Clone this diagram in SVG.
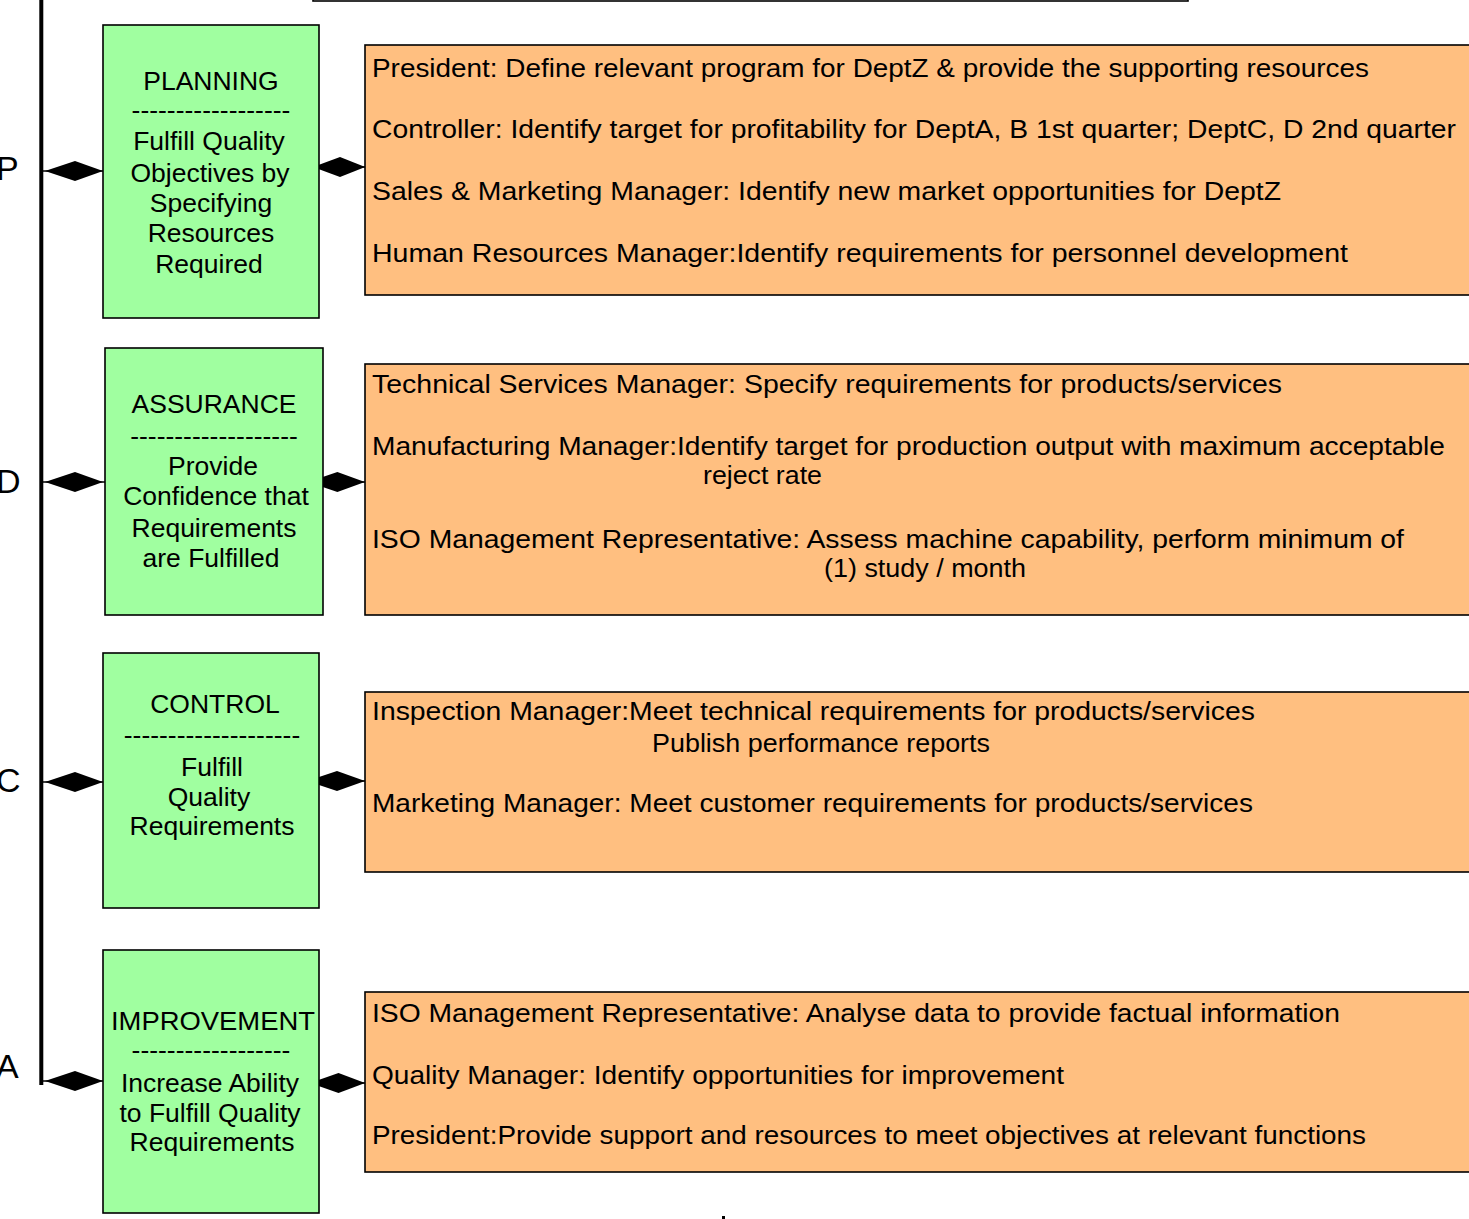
<svg xmlns="http://www.w3.org/2000/svg" xmlns:xlink="http://www.w3.org/1999/xlink" width="1469" height="1219" viewBox="0 0 1469 1219">
<style>
  .green { fill: #A0FFA0; stroke: #000; stroke-width: 1.6; }
  .orange { fill: #FFBF80; stroke: #000; stroke-width: 1.6; }
  .gt { font-family: "Liberation Sans", Arial, sans-serif; font-size: 26.5px; fill: #000; text-anchor: middle; }
  .ot { font-family: "Liberation Sans", Arial, sans-serif; font-size: 25px; fill: #000; }
  .letter { font-family: "Liberation Sans", Arial, sans-serif; font-size: 34px; fill: #000; }
  .conn { stroke: #000; stroke-width: 1.5; fill: none; }
  .dia { fill: #000; stroke: none; }
</style>
<defs>
  <path id="diamond" d="M0,0 L30,-10 L58,0 L30,10 Z"/>
</defs>
<rect width="1469" height="1219" fill="#fff"/>

<g id="top-box">
  <rect x="313" y="-60" width="875" height="61" fill="#fff" stroke="#000" stroke-width="1.6"/>
</g>

<g id="axis">
  <line x1="41.3" y1="0" x2="41.3" y2="1085" stroke="#000" stroke-width="4"/>
  <text class="letter" x="-4" y="180">P</text>
  <text class="letter" x="-4" y="493">D</text>
  <text class="letter" x="-4" y="792">C</text>
  <text class="letter" x="-4" y="1078">A</text>
</g>

<g id="connectors">
  <line class="conn" x1="43" y1="171" x2="103" y2="171"/>
  <use xlink:href="#diamond" class="dia" transform="translate(45,171)"/>
  <line class="conn" x1="313" y1="167" x2="365" y2="167"/>
  <use xlink:href="#diamond" class="dia" transform="translate(313,167) scale(0.9,1)"/>

  <line class="conn" x1="43" y1="482" x2="105" y2="482"/>
  <use xlink:href="#diamond" class="dia" transform="translate(45,482)"/>
  <line class="conn" x1="308" y1="482" x2="365" y2="482"/>
  <use xlink:href="#diamond" class="dia" transform="translate(308,482) scale(0.98,1)"/>

  <line class="conn" x1="43" y1="782" x2="103" y2="782"/>
  <use xlink:href="#diamond" class="dia" transform="translate(45,782)"/>
  <line class="conn" x1="307" y1="781" x2="365" y2="781"/>
  <use xlink:href="#diamond" class="dia" transform="translate(307,781)"/>

  <line class="conn" x1="43" y1="1081" x2="103" y2="1081"/>
  <use xlink:href="#diamond" class="dia" transform="translate(45,1081)"/>
  <line class="conn" x1="310" y1="1083" x2="365" y2="1083"/>
  <use xlink:href="#diamond" class="dia" transform="translate(310,1083) scale(0.95,1)"/>
</g>

<g id="planning">
  <rect class="green" x="103" y="25" width="216" height="293"/>
  <text class="gt" x="211" y="90">PLANNING</text>
  <text class="gt" x="211" y="119">------------------</text>
  <text class="gt" x="209" y="150">Fulfill Quality</text>
  <text class="gt" x="210" y="182">Objectives by</text>
  <text class="gt" x="211" y="212">Specifying</text>
  <text class="gt" x="211" y="242">Resources</text>
  <text class="gt" x="209" y="273">Required</text>
</g>

<g id="planning-tasks">
  <rect class="orange" x="365" y="45" width="1110" height="250"/>
  <text class="ot" x="372" y="77" textLength="997" lengthAdjust="spacingAndGlyphs">President: Define relevant program for DeptZ &amp; provide the supporting resources</text>
  <text class="ot" x="372" y="138" textLength="1084" lengthAdjust="spacingAndGlyphs">Controller: Identify target for profitability for DeptA, B  1st quarter; DeptC, D  2nd quarter</text>
  <text class="ot" x="372" y="200" textLength="909" lengthAdjust="spacingAndGlyphs">Sales &amp; Marketing Manager: Identify new market opportunities for DeptZ</text>
  <text class="ot" x="372" y="262" textLength="976" lengthAdjust="spacingAndGlyphs">Human Resources Manager:Identify requirements for personnel development</text>
</g>

<g id="assurance">
  <rect class="green" x="105" y="348" width="218" height="267"/>
  <text class="gt" x="214" y="413">ASSURANCE</text>
  <text class="gt" x="214" y="445">-------------------</text>
  <text class="gt" x="213" y="475">Provide</text>
  <text class="gt" x="216" y="505">Confidence that</text>
  <text class="gt" x="214" y="537">Requirements</text>
  <text class="gt" x="211" y="567">are Fulfilled</text>
</g>

<g id="assurance-tasks">
  <rect class="orange" x="365" y="364" width="1110" height="251"/>
  <text class="ot" x="372" y="393" textLength="910" lengthAdjust="spacingAndGlyphs">Technical Services Manager: Specify requirements for products/services</text>
  <text class="ot" x="372" y="455" textLength="1073" lengthAdjust="spacingAndGlyphs">Manufacturing Manager:Identify target for production output with maximum acceptable</text>
  <text class="ot" x="703" y="484" textLength="119" lengthAdjust="spacingAndGlyphs">reject rate</text>
  <text class="ot" x="372" y="548" textLength="1032" lengthAdjust="spacingAndGlyphs">ISO Management Representative: Assess machine capability, perform minimum of</text>
  <text class="ot" x="824" y="577" textLength="202" lengthAdjust="spacingAndGlyphs">(1) study / month</text>
</g>

<g id="control">
  <rect class="green" x="103" y="653" width="216" height="255"/>
  <text class="gt" x="215" y="713">CONTROL</text>
  <text class="gt" x="212" y="744">--------------------</text>
  <text class="gt" x="212" y="776">Fulfill</text>
  <text class="gt" x="209" y="806">Quality</text>
  <text class="gt" x="212" y="835">Requirements</text>
</g>

<g id="control-tasks">
  <rect class="orange" x="365" y="692" width="1110" height="180"/>
  <text class="ot" x="372" y="720" textLength="883" lengthAdjust="spacingAndGlyphs">Inspection Manager:Meet technical requirements for products/services</text>
  <text class="ot" x="652" y="752" textLength="338" lengthAdjust="spacingAndGlyphs">Publish performance reports</text>
  <text class="ot" x="372" y="812" textLength="881" lengthAdjust="spacingAndGlyphs">Marketing Manager: Meet customer requirements for products/services</text>
</g>

<g id="improvement">
  <rect class="green" x="103" y="950" width="216" height="263"/>
  <text class="gt" x="213" y="1030" textLength="204" lengthAdjust="spacingAndGlyphs">IMPROVEMENT</text>
  <text class="gt" x="211" y="1059">------------------</text>
  <text class="gt" x="210" y="1092">Increase Ability</text>
  <text class="gt" x="210" y="1122">to Fulfill Quality</text>
  <text class="gt" x="212" y="1151">Requirements</text>
</g>

<g id="improvement-tasks">
  <rect class="orange" x="365" y="992" width="1110" height="180"/>
  <text class="ot" x="372" y="1022" textLength="968" lengthAdjust="spacingAndGlyphs">ISO Management Representative: Analyse data to provide factual information</text>
  <text class="ot" x="372" y="1084" textLength="692" lengthAdjust="spacingAndGlyphs">Quality Manager: Identify opportunities for improvement</text>
  <text class="ot" x="372" y="1144" textLength="994" lengthAdjust="spacingAndGlyphs">President:Provide support and resources to meet objectives at relevant functions</text>
</g>

<rect x="722" y="1216" width="3" height="3" fill="#000"/>
</svg>
